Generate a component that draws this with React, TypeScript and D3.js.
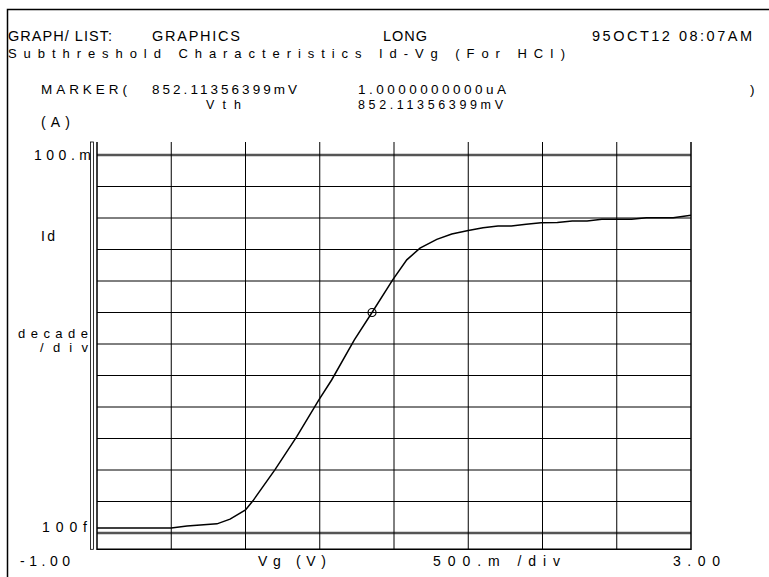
import React from "react";
import * as d3 from "d3";

// ---- data ----
const vgValues = [-1.0, -0.5, -0.394, -0.192, -0.104, 0.0, 0.05, 0.2, 0.345, 0.493, 0.58, 0.733, 0.852, 0.99, 1.086, 1.175, 1.288, 1.389, 1.5, 1.6, 1.7, 1.79, 1.89, 1.99, 2.1, 2.2, 2.3, 2.4, 2.6, 2.7, 2.88, 3.0];
const idValues = [1.45e-13, 1.45e-13, 1.66e-13, 1.95e-13, 2.75e-13, 5.4e-13, 1.05e-12, 1.05e-11, 1.15e-10, 1.66e-9, 7.2e-9, 1.35e-7, 1.0e-6, 1.07e-5, 4.7e-5, 1.1e-4, 2.1e-4, 3.1e-4, 4.0e-4, 4.9e-4, 5.6e-4, 5.6e-4, 6.3e-4, 7.1e-4, 7.2e-4, 8.1e-4, 8.1e-4, 9.1e-4, 9.1e-4, 1.02e-3, 1.02e-3, 1.23e-3];
const xDomain = [-1.0, 3.0];
const xGridStep = 0.5;
const yDomain = [1e-13, 1e-1];
const xTickLabels = ["-1.00", "3.00"];
const yTickLabels = ["100.m", "100f"];
const markerVg = 0.85211356399;
const markerId = 1.0e-6;

const FONT = "'Liberation Sans', Arial, sans-serif";

type T = { s: string; x: number; y: number; w: number; fs?: number };

export default function App() {
  const W = 769, H = 577;
  const x = d3.scaleLinear().domain(xDomain).range([97, 691]);
  const y = d3.scaleLog().domain(yDomain).range([533, 155]);
  const gridTop = 142, gridBottom = 549.3;

  const xGrid = d3.range(xDomain[0] + xGridStep, xDomain[1] - 1e-9, xGridStep);
  const yGrid: number[] = [];
  for (let e = -13; e <= -1; e++) yGrid.push(Math.pow(10, e));

  const line = d3
    .line<number>()
    .x((_, i) => x(vgValues[i]))
    .y((d) => y(d))
    .curve(d3.curveLinear);

  const texts: T[] = [
    { s: "GRAPH/ LIST:", x: 8, y: 41, w: 104, fs: 14.5 },
    { s: "GRAPHICS", x: 152, y: 41, w: 88, fs: 14.5 },
    { s: "LONG", x: 383, y: 41, w: 44, fs: 14.5 },
    { s: "95OCT12 08:07AM", x: 592, y: 41, w: 160, fs: 14.5 },
    { s: "Subthreshold Characteristics Id-Vg (For HCI)", x: 8, y: 58, w: 557, fs: 13 },
    { s: "MARKER(", x: 41, y: 94, w: 86, fs: 13.5 },
    { s: "852.11356399mV", x: 152, y: 94, w: 145, fs: 13.5 },
    { s: "1.0000000000uA", x: 358, y: 94, w: 148, fs: 13.5 },
    { s: ")", x: 750, y: 94, w: 5, fs: 13.5 },
    { s: "Vth", x: 206, y: 109, w: 35, fs: 12.5 },
    { s: "852.11356399mV", x: 358, y: 109, w: 145, fs: 12.5 },
    { s: "(A)", x: 41, y: 127, w: 29 },
    { s: yTickLabels[0], x: 34, y: y(yDomain[1]) + 5, w: 57 },
    { s: "Id", x: 41, y: 241, w: 14 },
    { s: "decade", x: 18, y: 338, w: 70, fs: 13 },
    { s: "/div", x: 40, y: 352, w: 48, fs: 13 },
    { s: yTickLabels[1], x: 42, y: y(yDomain[0]) - 1, w: 45 },
    { s: xTickLabels[0], x: x(xDomain[0]) - 77, y: 566, w: 50 },
    { s: "Vg (V)", x: 258, y: 566, w: 68 },
    { s: "500.m /div", x: 433, y: 566, w: 127 },
    { s: xTickLabels[1], x: x(xDomain[1]) - 18, y: 566, w: 47 },
  ];

  return (
    <svg width={W} height={H} style={{ display: "block", position: "absolute", left: 0, top: 0 }}>
      <rect x={0} y={0} width={W} height={H} fill="#fff" />
      {/* outer border */}
      <path d={`M7.5,${H + 5} V9.5 H${W + 5}`} fill="none" stroke="#000" strokeWidth={1.5} />
      {/* horizontal grid */}
      {yGrid.map((v, i) => {
        const edge = i === 0 || i === yGrid.length - 1;
        return (
          <line
            key={"h" + i}
            x1={x(xDomain[0])}
            x2={x(xDomain[1])}
            y1={y(v)}
            y2={y(v)}
            stroke={edge ? "#555" : "#000"}
            strokeWidth={edge ? 2.5 : 1}
          />
        );
      })}
      {/* vertical grid */}
      {xGrid.map((v, i) => (
        <line key={"v" + i} x1={x(v)} x2={x(v)} y1={gridTop} y2={gridBottom} stroke="#000" strokeWidth={1} />
      ))}
      {/* frame */}
      <path
        d={`M${x(xDomain[0])},${gridTop} V${gridBottom} H${x(xDomain[1])} V${gridTop}`}
        fill="none"
        stroke="#000"
        strokeWidth={1.5}
      />
      <rect x={90.5} y={gridTop} width={3} height={gridBottom - gridTop} fill="none" stroke="#000" strokeWidth={0.8} />
      {/* curve */}
      <path d={line(idValues) || ""} fill="none" stroke="#000" strokeWidth={1.5} />
      <circle cx={x(markerVg)} cy={y(markerId)} r={4} fill="none" stroke="#000" strokeWidth={1.2} />
      {texts.map((t, i) => (
        <text
          key={"t" + i}
          x={t.x}
          y={t.y}
          fontFamily={FONT}
          fontSize={t.fs ?? 14}
          fill="#000"
          textLength={t.w}
          lengthAdjust="spacing"
        >
          {t.s}
        </text>
      ))}
    </svg>
  );
}
